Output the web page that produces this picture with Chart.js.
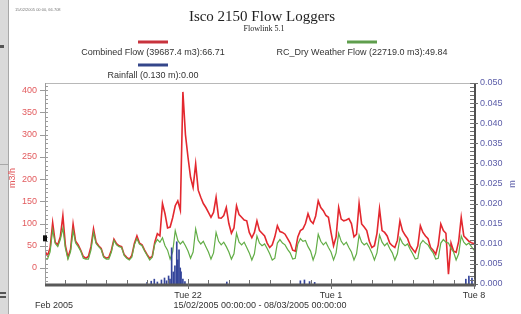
<!DOCTYPE html>
<html>
<head>
<meta charset="utf-8">
<script src="https://cdn.jsdelivr.net/npm/chart.js@4.4.1/dist/chart.umd.min.js"></script>
<style>
  html, body { margin: 0; padding: 0; background: #fff; }
  #wrap { position: relative; width: 521px; height: 314px; }
</style>
</head>
<body>
<div id="wrap"><canvas id="flowChart" width="521" height="314"></canvas></div>
<script>
// 3-hourly samples from 15/02/2005 00:00 (00,03,06,09,12,15,18,21h), last one is 08/03 00:00
const samplesPerDay = 8;

// Combined Flow, m3/h
const flowCombined = [
    38, 28, 45, 102, 58, 52, 70, 118,     // Tue 15
    50, 24, 42, 99, 60, 52, 40, 26,       // Wed 16
    22, 26, 48, 88, 58, 50, 44, 26,       // Thu 17
    22, 24, 40, 65, 55, 50, 48, 30,       // Fri 18
    24, 20, 28, 55, 72, 56, 52, 40,       // Sat 19
    30, 22, 26, 58, 77, 72, 145, 122,     // Sun 20
    90, 92, 113, 140, 151, 130, 396, 300, // Mon 21
    249, 204, 181, 234, 175, 159, 145, 136, // Tue 22
    125, 114, 125, 159, 113, 112, 118, 136, // Wed 23
    100, 78, 90, 140, 120, 114, 108, 106, // Thu 24
    80, 68, 80, 106, 84, 78, 72, 56,      // Fri 25
    46, 52, 70, 95, 82, 80, 76, 66,       // Sat 26
    56, 40, 38, 70, 84, 88, 100, 122,     // Sun 27
    106, 100, 117, 151, 136, 129, 118, 114, // Mon 28
    80, 50, 70, 136, 110, 106, 108, 111,  // Tue 1
    100, 70, 76, 145, 99, 92, 84, 60,     // Wed 2
    46, 50, 78, 133, 84, 80, 72, 56,      // Thu 3
    50, 46, 62, 106, 84, 74, 66, 50,      // Fri 4
    42, 35, 50, 95, 80, 72, 66, 46,       // Sat 5
    40, 31, 52, 99, 84, 78, -14, 56,      // Sun 6
    38, 35, 60, 114, 72, 66, 60, 57,      // Mon 7
    55                                    // Tue 8
];

// RC_Dry Weather Flow, m3/h
const flowDry = [
    22, 20, 36, 86, 55, 48, 64, 90,
    44, 20, 36, 84, 56, 48, 38, 22,
    20, 20, 40, 80, 55, 48, 42, 24,
    20, 20, 36, 62, 52, 48, 46, 28,
    22, 18, 24, 52, 66, 54, 50, 38,
    28, 18, 24, 54, 64, 58, 68, 50,
    40, 20, 36, 84, 62, 54, 60, 50,
    38, 22, 36, 88, 62, 54, 60, 48,
    36, 20, 34, 80, 60, 52, 58, 48,
    36, 20, 32, 78, 58, 52, 58, 46,
    34, 18, 32, 72, 56, 50, 54, 44,
    32, 18, 22, 56, 64, 56, 52, 42,
    34, 20, 22, 54, 66, 60, 62, 48,
    38, 18, 34, 76, 60, 52, 58, 46,
    36, 18, 34, 78, 60, 52, 58, 46,
    36, 18, 32, 74, 58, 52, 56, 46,
    34, 18, 34, 74, 58, 50, 56, 44,
    34, 18, 32, 68, 56, 50, 54, 42,
    32, 20, 22, 54, 62, 56, 52, 42,
    34, 20, 22, 56, 64, 58, 56, 44,
    36, 18, 32, 72, 58, 52, 56, 48,
    40
];

// Rainfall, m (days since 15/02 00:00)
const rainDays = [5.0, 5.2, 5.35, 5.5, 5.7, 5.85, 5.95, 6.05, 6.12, 6.2, 6.28, 6.36, 6.45, 6.5, 6.56, 6.62, 6.66, 6.75, 6.85,
                  8.9, 12.5, 12.7, 12.95, 13.2, 20.6, 20.75, 20.9];
const rainMetres = [0.0004, 0.0007, 0.0012, 0.0005, 0.001, 0.0015, 0.0008, 0.002, 0.0012, 0.009, 0.003, 0.0045, 0.0105, 0.006, 0.0085, 0.004, 0.003, 0.0012, 0.0006,
                    0.0005, 0.0008, 0.001, 0.0006, 0.0004, 0.0012, 0.002, 0.0015];

const xTickDays = [7, 14, 21];
const xTickText = ['Tue 22', 'Tue 1', 'Tue 8'];
const leftTicks = [0, 50, 100, 150, 200, 250, 300, 350, 400];
const rightTicks = [0, 0.005, 0.01, 0.015, 0.02, 0.025, 0.03, 0.035, 0.04, 0.045, 0.05];

const legendText = ['Combined Flow (39687.4 m3):66.71', 'RC_Dry Weather Flow (22719.0 m3):49.84', 'Rainfall (0.130 m):0.00'];
const cursorValue = 66.71;

const SANS = '"Liberation Sans", Arial, sans-serif';
const SERIF = '"Liberation Serif", "Times New Roman", serif';
const RED = '#e3282f';
const GREEN = '#62ad46';
const BLUE = '#34449a';
const RED_TXT = '#e25b5e';
const BLUE_TXT = '#5b5ca8';

const toPoints = arr => arr.map((v, i) => ({ x: i / samplesPerDay, y: v }));

function line(ctx, x1, y1, x2, y2) {
    ctx.beginPath();
    ctx.moveTo(x1, y1);
    ctx.lineTo(x2, y2);
    ctx.stroke();
}

const decor = {
    id: 'decor',
    beforeDraw(chart) {
        const ctx = chart.ctx;
        ctx.save();
        ctx.fillStyle = '#fff';
        ctx.fillRect(0, 0, chart.width, chart.height);
        // window edge at the left of the screenshot
        ctx.fillStyle = '#dadada';
        ctx.fillRect(0, 0, 8, chart.height);
        ctx.fillStyle = '#a8a8a8';
        ctx.fillRect(8, 0, 1, chart.height);
        ctx.fillRect(0, 164, 8, 1);
        ctx.fillStyle = '#555';
        ctx.fillRect(0, 45, 4, 3);
        ctx.fillRect(0, 292, 6, 2);
        ctx.fillRect(0, 296, 6, 2);
        ctx.restore();
    },
    afterDraw(chart) {
        const { ctx, chartArea: a, scales } = chart;
        const { x, y, y1 } = scales;
        ctx.save();
        ctx.lineWidth = 1;

        // frame top + left axis
        ctx.strokeStyle = '#b8b8b8';
        line(ctx, a.left, a.top + 0.5, a.right, a.top + 0.5);
        ctx.strokeStyle = '#9c9c9c';
        line(ctx, a.left + 0.5, a.top, a.left + 0.5, a.bottom);
        for (let v = -30; v <= 410; v += 10) {
            const py = Math.round(y.getPixelForValue(v)) + 0.5;
            line(ctx, a.left, py, a.left + 3, py);
        }
        leftTicks.forEach(v => {
            const py = Math.round(y.getPixelForValue(v)) + 0.5;
            line(ctx, a.left - 5, py, a.left, py);
        });

        // right axis
        ctx.strokeStyle = '#505050';
        ctx.lineWidth = 2;
        line(ctx, a.right + 1, a.top, a.right + 1, a.bottom + 2);
        ctx.lineWidth = 1;
        ctx.strokeStyle = '#707070';
        for (let k = 0; k <= 50; k++) {
            const py = Math.round(y1.getPixelForValue(k / 1000)) + 0.5;
            line(ctx, a.right - 4, py, a.right, py);
        }
        rightTicks.forEach(v => {
            const py = Math.round(y1.getPixelForValue(v)) + 0.5;
            line(ctx, a.right, py, a.right + 4, py);
        });

        // bottom axis
        ctx.strokeStyle = '#585858';
        ctx.lineWidth = 3;
        line(ctx, a.left, a.bottom + 1, a.right + 2, a.bottom + 1);
        ctx.lineWidth = 1;
        ctx.strokeStyle = '#707070';
        for (let d = 1; d < 21; d++) {
            const px = Math.round(x.getPixelForValue(d)) + 0.5;
            line(ctx, px, a.bottom, px, a.bottom - 4);
        }
        xTickDays.forEach(d => {
            const px = Math.round(x.getPixelForValue(d)) + 0.5;
            line(ctx, px, a.bottom - 5, px, a.bottom + 5);
        });

        // cursor marker on the left axis
        ctx.fillStyle = '#111';
        const cy = y.getPixelForValue(cursorValue);
        ctx.fillRect(a.left - 2, cy - 3, 4, 6);

        // titles
        ctx.fillStyle = '#222';
        ctx.textAlign = 'center';
        ctx.textBaseline = 'middle';
        ctx.font = '15px ' + SERIF;
        ctx.fillText('Isco 2150 Flow Loggers', 262, 17);
        ctx.font = '8px ' + SERIF;
        ctx.fillText('Flowlink 5.1', 264, 29);
        ctx.fillStyle = '#777';
        ctx.font = '4px ' + SANS;
        ctx.textAlign = 'left';
        ctx.fillText('15/02/2005 00:00, 66.708', 15, 10);

        // legend
        const ds = chart.data.datasets;
        const legendPos = [[153, 42, 53], [362, 42, 53], [153, 65, 76]];
        ctx.font = '9px ' + SANS;
        ctx.textAlign = 'center';
        legendPos.forEach(([cx, ly, ty], i) => {
            ctx.strokeStyle = ds[i].legendColor;
            ctx.lineWidth = 3;
            line(ctx, cx - 15, ly, cx + 15, ly);
            ctx.fillStyle = '#333';
            ctx.fillText(legendText[i], cx, ty);
        });

        // axis titles
        ctx.save();
        ctx.translate(13, 178);
        ctx.rotate(-Math.PI / 2);
        ctx.fillStyle = RED_TXT;
        ctx.fillText('m3/h', 0, 0);
        ctx.restore();
        ctx.save();
        ctx.translate(513, 184);
        ctx.rotate(-Math.PI / 2);
        ctx.fillStyle = BLUE_TXT;
        ctx.fillText('m', 0, 0);
        ctx.restore();

        // footer
        ctx.fillStyle = '#333';
        ctx.textAlign = 'left';
        ctx.fillText('Feb 2005', 35, 306);
        ctx.textAlign = 'center';
        ctx.fillText('15/02/2005 00:00:00 - 08/03/2005 00:00:00', 260, 306);
        ctx.restore();
    }
};

new Chart(document.getElementById('flowChart'), {
    type: 'line',
    data: {
        datasets: [{
            label: 'Combined Flow',
            data: toPoints(flowCombined),
            borderColor: RED,
            legendColor: '#c8333d',
            borderWidth: 1.6,
            pointRadius: 0,
            yAxisID: 'y',
            order: 2
        }, {
            label: 'RC_Dry Weather Flow',
            data: toPoints(flowDry),
            borderColor: GREEN,
            legendColor: '#5f9e4d',
            borderWidth: 1.2,
            pointRadius: 0,
            yAxisID: 'y',
            order: 1
        }, {
            type: 'bar',
            label: 'Rainfall',
            data: rainDays.map((d, i) => ({ x: d, y: rainMetres[i] })),
            backgroundColor: BLUE,
            legendColor: '#34468a',
            barThickness: 1,
            grouped: false,
            yAxisID: 'y1',
            order: 0
        }]
    },
    options: {
        responsive: false,
        animation: false,
        layout: { padding: { top: 83, left: 0, right: 0, bottom: 0 } },
        plugins: { legend: { display: false }, tooltip: { enabled: false } },
        scales: {
            x: {
                type: 'linear',
                offset: false,
                min: 0,
                max: 21,
                grid: { display: false, drawTicks: false, offset: false },
                border: { display: false },
                afterBuildTicks: s => { s.ticks = xTickDays.map(v => ({ value: v })); },
                afterFit: s => { s.height = 30; },
                ticks: {
                    autoSkip: false,
                    maxRotation: 0,
                    padding: 6,
                    color: '#333',
                    font: { family: SANS, size: 9 },
                    callback: v => xTickText[xTickDays.indexOf(v)]
                }
            },
            y: {
                position: 'left',
                min: -36,
                max: 416,
                grid: { display: false, drawTicks: false },
                border: { display: false },
                afterBuildTicks: s => { s.ticks = leftTicks.map(v => ({ value: v })); },
                afterFit: s => { s.width = 45; },
                ticks: { padding: 8, color: RED_TXT, font: { family: SANS, size: 9 } }
            },
            y1: {
                position: 'right',
                min: 0,
                max: 0.05,
                grid: { display: false, drawTicks: false },
                border: { display: false },
                afterBuildTicks: s => { s.ticks = rightTicks.map(v => ({ value: v })); },
                afterFit: s => { s.width = 47; },
                ticks: {
                    padding: 6,
                    color: BLUE_TXT,
                    font: { family: SANS, size: 9 },
                    callback: v => v.toFixed(3)
                }
            }
        }
    },
    plugins: [decor]
});
</script>
</body>
</html>
